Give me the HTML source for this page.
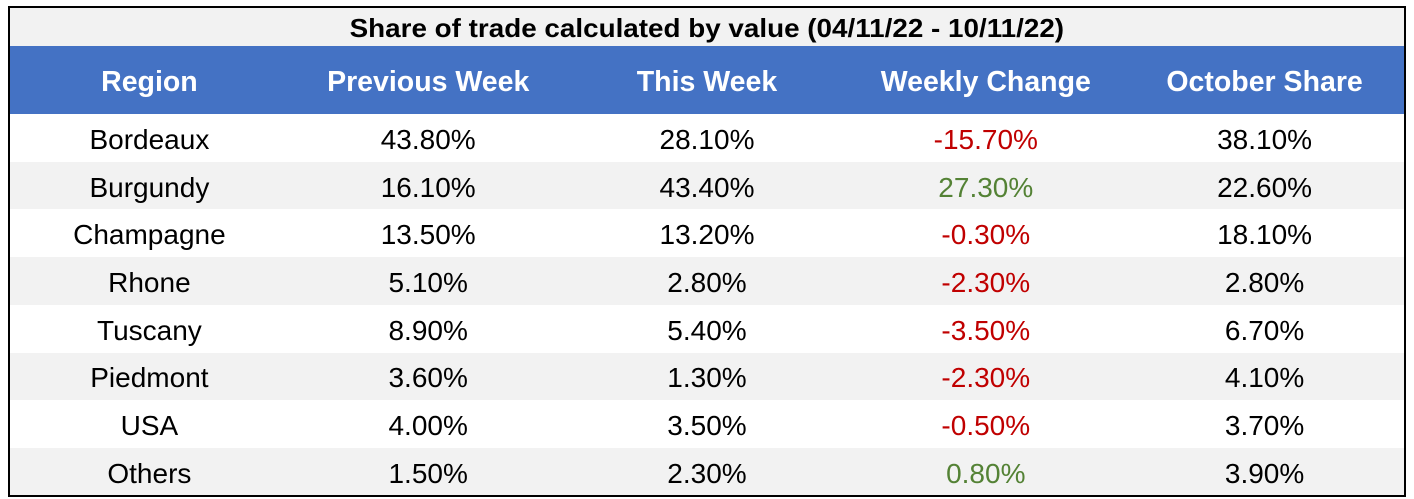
<!DOCTYPE html>
<html><head><meta charset="utf-8"><style>
*{margin:0;padding:0;box-sizing:border-box}
body{width:1414px;height:499px;background:#fff;font-family:"Liberation Sans",Arial,sans-serif;position:relative;overflow:hidden}
#tbl{position:absolute;left:8px;top:6px;width:1398px;height:491px;border:2px solid #000;background:#fff;overflow:hidden}
.title{position:absolute;left:0;top:0;width:100%;height:38px;background:#f2f2f2;text-align:center;font-weight:bold;font-size:26px;line-height:40px}
.hdr{position:absolute;left:0;top:38px;width:100%;height:68px;background:#4472c4;color:#fff;font-weight:bold;font-size:28.5px}
.row{position:absolute;left:0;width:100%;height:47.7px;font-size:28px}
.cell{position:absolute;top:0;height:100%;width:278.8px;text-align:center;display:flex;align-items:center;justify-content:center;padding-top:4px}
.neg{color:#c00000}.pos{color:#548235}
</style></head><body>
<div id="tbl">
<div class="title"><span style="display:inline-block;transform:scaleX(1.07)">Share of trade calculated by value (04/11/22 - 10/11/22)</span></div>
<div class="hdr" id="hdr"></div>
</div>
<script>
const headers=["Region","Previous Week","This Week","Weekly Change","October Share"];
const regions=["Bordeaux","Burgundy","Champagne","Rhone","Tuscany","Piedmont","USA","Others"];
const prevWeek=[43.8,16.1,13.5,5.1,8.9,3.6,4.0,1.5];
const thisWeek=[28.1,43.4,13.2,2.8,5.4,1.3,3.5,2.3];
const weeklyChange=[-15.7,27.3,-0.3,-2.3,-3.5,-2.3,-0.5,0.8];
const octShare=[38.1,22.6,18.1,2.8,6.7,4.1,3.7,3.9];
const tbl=document.getElementById('tbl');
const hdr=document.getElementById('hdr');
headers.forEach((h,i)=>{
  const c=document.createElement('div');
  c.className='cell';c.style.left=(i*278.8)+'px';c.textContent=h;
  
  
  hdr.appendChild(c);
});
const fmt=v=>v.toFixed(2)+'%';
regions.forEach((r,i)=>{
  const row=document.createElement('div');
  row.className='row';
  row.style.top=(106+i*47.7)+'px';
  row.style.background=i%2?'#f2f2f2':'#fff';
  
  
  const vals=[r,fmt(prevWeek[i]),fmt(thisWeek[i]),fmt(weeklyChange[i]),fmt(octShare[i])];
  const names=['region','previous-week','this-week','weekly-change','october-share'];
  vals.forEach((v,j)=>{
    const c=document.createElement('div');
    c.className='cell';c.style.left=(j*278.8)+'px';c.textContent=v;
    if(j===3)c.classList.add(weeklyChange[i]<0?'neg':'pos');
    
    
    row.appendChild(c);
  });
  tbl.appendChild(row);
});
</script>
</body></html>
